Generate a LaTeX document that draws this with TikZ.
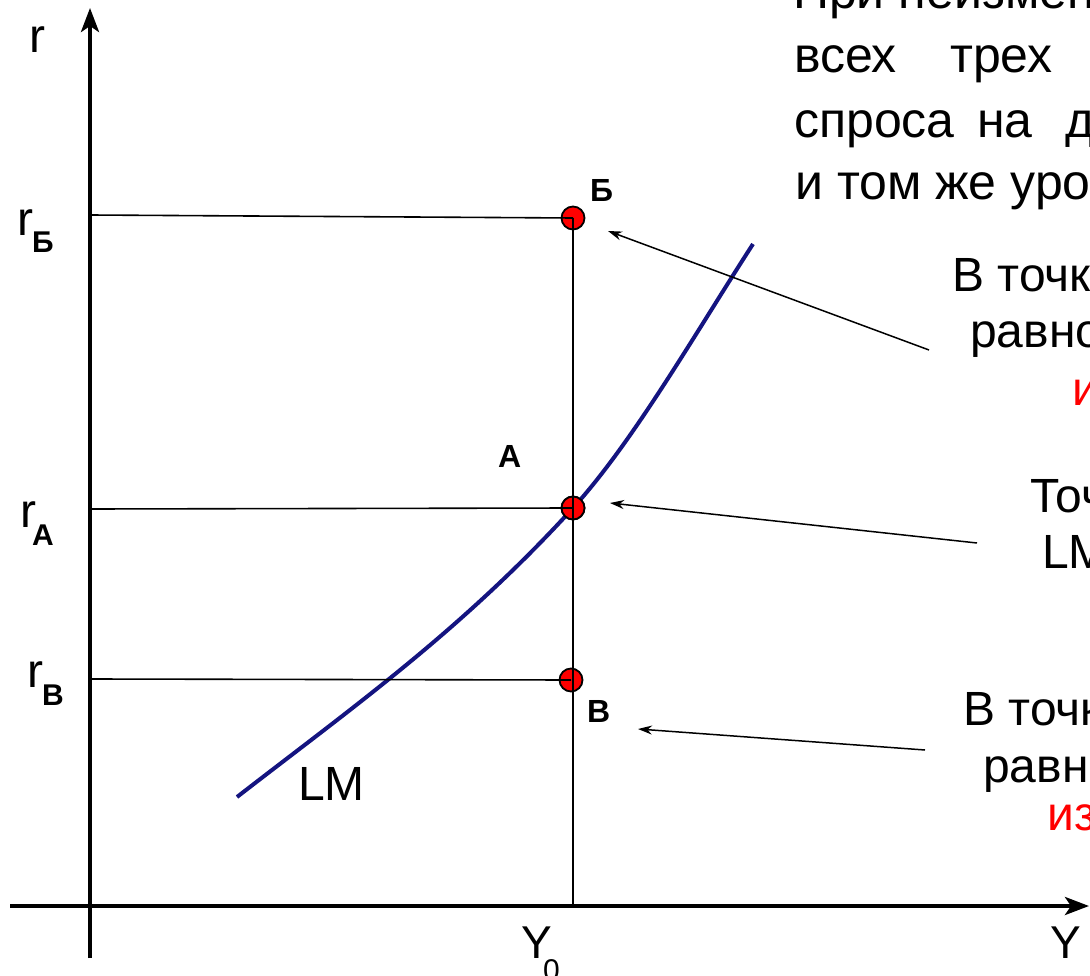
\documentclass[tikz,border=0pt]{standalone}
\usepackage{fontspec}
\setmainfont{Liberation Sans}
\usetikzlibrary{arrows.meta}
\definecolor{lmblue}{RGB}{20,20,128}
\begin{document}
\begin{tikzpicture}[x=1pt,y=-1pt,
  axis/.style={line width=4pt,-{Stealth[length=24pt,width=18pt,inset=6pt]}},
  guide/.style={line width=1.6pt},
  lmcurve/.style={line width=4pt,color=lmblue},
  pt/.style={circle,draw=black,fill=red,line width=1.8pt,minimum size=23pt,inner sep=0pt},
  annot/.style={line width=1.5pt,-{Stealth[length=14pt,width=9pt]}},
  txt/.style={inner sep=0pt,anchor=base west},
  bigtxt/.style={txt,font=\fontsize{50}{64}\selectfont},
  midtxt/.style={txt,font=\fontsize{48}{57}\selectfont},
  ptlabel/.style={txt,font=\fontsize{32}{36}\selectfont\bfseries},
  subtxt/.style={txt,font=\fontsize{30}{34}\selectfont\bfseries},
  redtxt/.style={midtxt,text=red}
]
\useasboundingbox (0,0) rectangle (1090,976);
\clip (0,0) rectangle (1090,976);

% axes
\coordinate (yb) at (90,958);
\coordinate (yt) at (90,8);
\coordinate (xl) at (10,906);
\coordinate (xr) at (1089,906);
\draw[axis] (yb) -- (yt);
\draw[axis] (xl) -- (xr);

% points
\node[pt] (pB) at (573,218) {};
\node[pt] (pA) at (573,508) {};
\node[pt] (pV) at (571,680) {};

% LM curve
\coordinate (lm0) at (237,797);
\coordinate (lm1) at (753,244);
\draw[lmcurve] (lm0) .. controls (349,710) and (461,631) .. (pA.center)
  .. controls (633,442) and (693,337) .. (lm1);
\node[pt] at (pA) {};

% guides
\coordinate (aB) at (90,215);
\coordinate (aA) at (90,509);
\coordinate (aV) at (90,679);
\coordinate (xY) at (573,904);
\draw[guide] (aB) -- (pB.center);
\draw[guide] (aA) -- (pA.center);
\draw[guide] (aV) -- (pV.center);
\draw[guide] (pB.center) -- (xY);

% axis labels
\node[midtxt] (lr) at (29,53) {r};
\node[midtxt] (lrB) at (17,236) {r};
\node[subtxt] (lrBs) at (32,253) {Б};
\node[midtxt] (lrA) at (20,527) {r};
\node[subtxt] (lrAs) at (32,545) {A};
\node[midtxt] (lrV) at (27,687) {r};
\node[subtxt] (lrVs) at (42,705) {B};
\node[txt,font=\fontsize{46}{50}\selectfont] (lY0) at (521,958) {Y};
\node[txt,font=\fontsize{30}{34}\selectfont] (lY0s) at (543,980) {0};
\node[txt,font=\fontsize{46}{50}\selectfont] (lY) at (1050,958) {Y};

% point labels
\node[ptlabel] (tB) at (590,202) {Б};
\node[ptlabel] (tA) at (498,467) {A};
\node[ptlabel] (tV) at (587,722) {B};
\node[midtxt] (tLM) at (298,800) {LM};

% top text
\node[bigtxt] (h1) at (793,9) {При неизменности};
\node[bigtxt] (h2a) at (794,73) {всех};
\node[bigtxt] (h2b) at (950,73) {трех};
\node[bigtxt] (h3a) at (794,138) {спроса};
\node[bigtxt] (h3b) at (977,138) {на};
\node[bigtxt] (h3c) at (1065,138) {деньги};
\node[bigtxt] (h4) at (795,200) {и том же уровне};

% right notes
\node[midtxt] (n1a) at (952,292) {В точке Б};
\node[midtxt] (n1b) at (970,348) {равновесие};
\node[redtxt] (n1c) at (1072,405) {избыток};
\node[midtxt] (n2a) at (1030,512) {Точка А};
\node[midtxt] (n2b) at (1042,568) {LM};
\node[midtxt] (n3a) at (963,725) {В точке В};
\node[midtxt] (n3b) at (983,782) {равновесие};
\node[redtxt] (n3c) at (1047,830) {избыток};

% annotation arrows
\coordinate (s1) at (929,350);
\coordinate (e1) at (608,231);
\coordinate (s2) at (977,543);
\coordinate (e2) at (610,503);
\coordinate (s3) at (925,750);
\coordinate (e3) at (638,729);
\draw[annot] (s1) -- (e1);
\draw[annot] (s2) -- (e2);
\draw[annot] (s3) -- (e3);
\end{tikzpicture}
\end{document}
